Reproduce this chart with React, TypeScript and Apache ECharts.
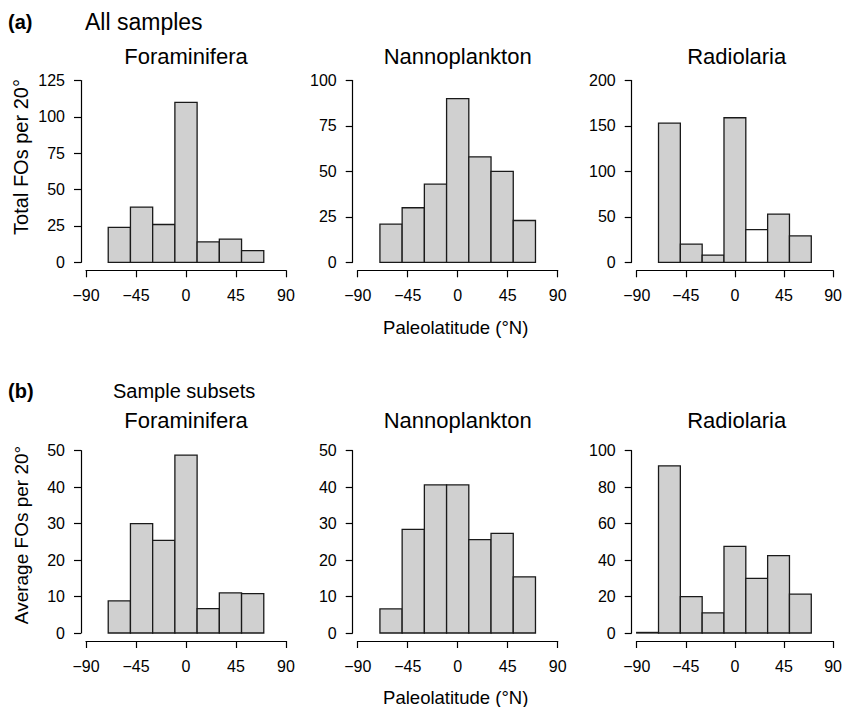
import React, { useEffect, useRef } from "react";
import * as echarts from "echarts";

// ---- Data ----
const binWidth = 20;
const binLeftEdges = [-70, -50, -30, -10, 10, 30, 50];
const binLeftEdgesRadioSub = [-90, -70, -50, -30, -10, 10, 30, 50];

const foramsAll = [24, 38, 26, 110, 14, 16, 8];
const nannoAll = [21, 30, 43, 90, 58, 50, 23];
const radioAll = [153, 20, 8, 159, 36, 53, 29];

const foramsSub = [8.8, 30, 25.4, 48.8, 6.7, 11, 10.8];
const nannoSub = [6.6, 28.4, 40.6, 40.6, 25.6, 27.3, 15.4];
const radioSub = [0.3, 91.7, 20, 11, 47.5, 30, 42.4, 21.3];

const xTicks = { min: -90, max: 90, interval: 45 };
const yTicksFor = { max: 125, interval: 25 };
const yTicksNanA = { max: 100, interval: 25 };
const yTicksRadA = { max: 200, interval: 50 };
const yTicksForB = { max: 50, interval: 10 };
const yTicksNanB = { max: 50, interval: 10 };
const yTicksRadB = { max: 100, interval: 20 };

const groupNames = ["Foraminifera", "Nannoplankton", "Radiolaria"];
const rowHeaders = ["All samples", "Sample subsets"];
const rowTags = ["(a)", "(b)"];
const yNames = ["Total FOs per 20°", "Average FOs per 20°"];
const xName = "Paleolatitude (°N)";

// ---- Layout ----
const FONT = "'Liberation Sans', Arial, Helvetica, sans-serif";
const colLeft = [86, 357.7, 636.7];
const plotWidth = 200;
const rowTop = [80.5, 450.7];
const rowHeight = [181.8, 182.3];
const BAR_FILL = "#d0d0d0";

const panels = [
  { row: 0, col: 0, edges: binLeftEdges, values: foramsAll, y: yTicksFor, white: [] as number[] },
  { row: 0, col: 1, edges: binLeftEdges, values: nannoAll, y: yTicksNanA, white: [] as number[] },
  { row: 0, col: 2, edges: binLeftEdges, values: radioAll, y: yTicksRadA, white: [4] },
  { row: 1, col: 0, edges: binLeftEdges, values: foramsSub, y: yTicksForB, white: [] as number[] },
  { row: 1, col: 1, edges: binLeftEdges, values: nannoSub, y: yTicksNanB, white: [] as number[] },
  { row: 1, col: 2, edges: binLeftEdgesRadioSub, values: radioSub, y: yTicksRadB, white: [] as number[] },
];

const fmt = (v: number) => (v < 0 ? "\u2212" + Math.abs(v) : String(v));

export default function App() {
  const ref = useRef<HTMLDivElement>(null);
  useEffect(() => {
    if (!ref.current) return;
    const chart = echarts.init(ref.current, undefined, { renderer: "svg" });

    const grid: any[] = [];
    const xAxis: any[] = [];
    const yAxis: any[] = [];
    const series: any[] = [];

    panels.forEach((p, i) => {
      grid.push({
        left: colLeft[p.col],
        top: rowTop[p.row],
        width: plotWidth,
        height: rowHeight[p.row],
        containLabel: false,
      });
      xAxis.push({
        gridIndex: i,
        type: "value",
        min: xTicks.min,
        max: xTicks.max,
        interval: xTicks.interval,
        position: "bottom",
        offset: 8,
        axisLine: { show: true, onZero: false, lineStyle: { color: "#000", width: 1.2 } },
        axisTick: { show: true, length: 7, lineStyle: { color: "#000", width: 1.2 } },
        axisLabel: {
          color: "#000",
          fontSize: 16,
          fontFamily: FONT,
          margin: 17,
          showMinLabel: true,
          showMaxLabel: true,
          hideOverlap: false,
          formatter: fmt,
        },
        splitLine: { show: false },
      });
      yAxis.push({
        gridIndex: i,
        type: "value",
        min: 0,
        max: p.y.max,
        interval: p.y.interval,
        position: "left",
        offset: 5,
        axisLine: { show: true, onZero: false, lineStyle: { color: "#000", width: 1.2 } },
        axisTick: { show: true, length: 7, lineStyle: { color: "#000", width: 1.2 } },
        axisLabel: {
          color: "#000",
          fontSize: 16,
          fontFamily: FONT,
          margin: 16,
          showMinLabel: true,
          showMaxLabel: true,
        },
        splitLine: { show: false },
      });
      const whites = p.white;
      series.push({
        type: "custom",
        xAxisIndex: i,
        yAxisIndex: i,
        clip: false,
        data: p.edges.map((e, k) => [e, e + binWidth, p.values[k]]),
        renderItem: (params: any, api: any) => {
          const x0 = api.value(0);
          const x1 = api.value(1);
          const v = api.value(2);
          const a = api.coord([x0, v]);
          const b = api.coord([x1, 0]);
          const isWhite = whites.indexOf(params.dataIndex) >= 0;
          return {
            type: "rect",
            shape: { x: a[0], y: a[1], width: b[0] - a[0], height: b[1] - a[1] },
            style: { fill: isWhite ? "#ffffff" : BAR_FILL, stroke: "#1a1a1a", lineWidth: 1.3 },
          };
        },
      });
    });

    const graphic: any[] = [];
    const rowHeaderY = [22, 391];
    const headerLeft = [85, 113];
    const headerSize = [23, 20];
    const titleY = [56, 420];
    const yNameY = [157, 535];
    const yNameSize = [20, 19];
    const xNameY = [327, 697];
    for (let r = 0; r < 2; r++) {
      graphic.push({
        type: "text",
        x: 8,
        y: rowHeaderY[r],
        style: {
          text: rowTags[r],
          fontSize: 20,
          fontWeight: "bold",
          fontFamily: FONT,
          fill: "#000",
          align: "left",
          verticalAlign: "middle",
        },
      });
      graphic.push({
        type: "text",
        x: headerLeft[r],
        y: rowHeaderY[r],
        style: {
          text: rowHeaders[r],
          fontSize: headerSize[r],
          fontFamily: FONT,
          fill: "#000",
          align: "left",
          verticalAlign: "middle",
        },
      });
      for (let c = 0; c < 3; c++) {
        graphic.push({
          type: "text",
          x: colLeft[c] + plotWidth / 2,
          y: titleY[r],
          style: {
            text: groupNames[c],
            fontSize: 22,
            fontFamily: FONT,
            fill: "#000",
            align: "center",
            verticalAlign: "middle",
          },
        });
      }
      graphic.push({
        type: "text",
        x: 21,
        y: yNameY[r],
        rotation: Math.PI / 2,
        style: {
          text: yNames[r],
          fontSize: yNameSize[r],
          fontFamily: FONT,
          fill: "#000",
          align: "center",
          verticalAlign: "middle",
        },
      });
      graphic.push({
        type: "text",
        x: colLeft[1] + plotWidth / 2 - 2,
        y: xNameY[r],
        style: {
          text: xName,
          fontSize: 18.5,
          fontFamily: FONT,
          fill: "#000",
          align: "center",
          verticalAlign: "middle",
        },
      });
    }

    chart.setOption({
      animation: false,
      backgroundColor: "#ffffff",
      grid,
      xAxis,
      yAxis,
      series,
      graphic,
    });
    return () => chart.dispose();
  }, []);

  return (
    <div
      ref={ref}
      style={{ position: "fixed", left: 0, top: 0, width: 845, height: 707, background: "#fff" }}
    />
  );
}
